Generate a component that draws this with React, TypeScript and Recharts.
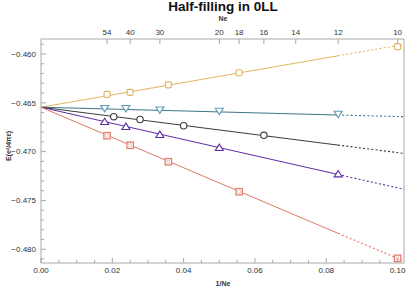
import React from 'react';
import { ComposedChart, Line, Scatter, XAxis, YAxis, ReferenceLine } from 'recharts';

// ---- data ----
const X_MAX = 0.1018;
const Y_MIN = -0.48141;
const Y_MAX = -0.45846;

const topNeTicks = [54, 40, 30, 20, 18, 16, 14, 12, 10];
const xMajor = [0, 0.02, 0.04, 0.06, 0.08, 0.1];
const xMinor = [0.005, 0.01, 0.015, 0.025, 0.03, 0.035, 0.045, 0.05, 0.055, 0.065, 0.07, 0.075, 0.085, 0.09, 0.095];
const yMajor = [-0.48, -0.475, -0.47, -0.465, -0.46];
const yMinor = [-0.481, -0.479, -0.478, -0.477, -0.476, -0.474, -0.473, -0.472, -0.471, -0.469, -0.468, -0.467, -0.466, -0.464, -0.463, -0.462, -0.461, -0.459];

// Ne of the markers and their energies
const yellowNe = [54, 40, 28, 18, 10];
const yellowE = [-0.46413, -0.46392, -0.46315, -0.46192, -0.45925];
const tealNe = [56, 42, 30, 20, 12];
const tealE = [-0.46556, -0.46556, -0.46571, -0.46584, -0.46615];
const blackNe = [49, 36, 25, 16];
const blackE = [-0.46642, -0.46671, -0.46735, -0.46833];
const purpleNe = [56, 42, 30, 20, 12];
const purpleE = [-0.46694, -0.46745, -0.46827, -0.4696, -0.4723];
const redNe = [54, 40, 28, 18, 10];
const redE = [-0.46837, -0.46935, -0.47104, -0.47411, -0.48093];

// fit lines: value at 1/Ne = 0, at end of solid part, and at the frame edge
const fitX = [0, 0.0833, 0.1018];
const yellowFit = [-0.46545, -0.46018, -0.45901];
const tealFit = [-0.46545, -0.46625, -0.46642];
const blackFit = [-0.46545, -0.46933, -0.47018];
const purpleFit = [-0.46545, -0.47234, -0.47386];
const redFit = [-0.46545, -0.47837, -0.48121];

// ---- styles ----
const FRAME = '#a8a8a8';
const TXT = '#333';
const FONT = '"Liberation Sans", Arial, sans-serif';
const C_YEL = '#dfb65f';
const C_TEAL = '#3f7287';
const C_TEAL_M = '#5d9db3';
const C_BLK = '#3c3c3c';
const C_PUR = '#5f2ca6';
const C_RED = '#e07864';

const pts = (ne: number[], e: number[]) => ne.map((n, i) => ({ x: 1 / n, y: e[i] }));
const solid = (f: number[]) => [{ x: fitX[0], y: f[0] }, { x: fitX[1], y: f[1] }];
const dotted = (f: number[]) => [{ x: fitX[1], y: f[1] }, { x: fitX[2], y: f[2] }];

const fmtMinus = (s: string) => s.replace('-', '\u2212');

const YTick = (p: any) => {
  const { x, y, payload } = p;
  const major = yMajor.includes(payload.value);
  return (
    <g>
      <line x1={x} x2={x + (major ? 5 : 3)} y1={y} y2={y} stroke={FRAME} strokeWidth={1} />
      {major && (
        <text x={x - 5} y={y + 2.8} textAnchor="end" fontSize={8} fill={TXT} fontFamily={FONT}>
          {fmtMinus(payload.value.toFixed(3))}
        </text>
      )}
    </g>
  );
};

const XTick = (p: any) => {
  const { x, y, payload } = p;
  const major = xMajor.includes(payload.value);
  return (
    <g>
      <line x1={x} x2={x} y1={y} y2={y - (major ? 5 : 3)} stroke={FRAME} strokeWidth={1} />
      {major && (
        <text x={x} y={y + 10.3} textAnchor="middle" fontSize={8} fill={TXT} fontFamily={FONT}>
          {payload.value.toFixed(2)}
        </text>
      )}
    </g>
  );
};

const TopTick = (p: any) => {
  const { x, y, index } = p;
  return (
    <g>
      <line x1={x} x2={x} y1={y} y2={y + 5} stroke={FRAME} strokeWidth={1} />
      <text x={x} y={y - 4.3} textAnchor="middle" fontSize={8} fill={TXT} fontFamily={FONT}>
        {topNeTicks[index]}
      </text>
    </g>
  );
};

const Sq = (color: string) => (p: any) => (
  <rect x={p.cx - 3} y={p.cy - 3} width={6} height={6} rx={1.5} fill="#fff" stroke={color} strokeWidth={1.2} />
);
const SqRed = (color: string) => (p: any) => (
  <g>
    <rect x={p.cx - 3.2} y={p.cy - 3.2} width={6.4} height={6.4} fill="#fff" stroke={color} strokeWidth={1.2} />
    <rect x={p.cx - 1.4} y={p.cy - 1.4} width={2.8} height={2.8} fill="none" stroke={color} strokeWidth={0.6} opacity={0.6} />
  </g>
);
const Circ = (color: string) => (p: any) => (
  <circle cx={p.cx} cy={p.cy} r={3.2} fill="#fff" stroke={color} strokeWidth={1.1} />
);
const TriUp = (color: string) => (p: any) => (
  <path d={`M${p.cx},${p.cy - 3.6} L${p.cx + 4},${p.cy + 2.8} L${p.cx - 4},${p.cy + 2.8} Z`} fill="#fff" stroke={color} strokeWidth={1.1} />
);
const TriDown = (color: string) => (p: any) => (
  <path d={`M${p.cx},${p.cy + 3.6} L${p.cx + 4},${p.cy - 2.8} L${p.cx - 4},${p.cy - 2.8} Z`} fill="#fff" stroke={color} strokeWidth={1.1} />
);

const series = [
  { fit: yellowFit, data: pts(yellowNe, yellowE), color: C_YEL, mColor: C_YEL, shape: Sq },
  { fit: tealFit, data: pts(tealNe, tealE), color: C_TEAL, mColor: C_TEAL_M, shape: TriDown },
  { fit: blackFit, data: pts(blackNe, blackE), color: C_BLK, mColor: C_BLK, shape: Circ },
  { fit: purpleFit, data: pts(purpleNe, purpleE), color: C_PUR, mColor: C_PUR, shape: TriUp },
  { fit: redFit, data: pts(redNe, redE), color: C_RED, mColor: C_RED, shape: SqRed },
];

export default function App() {
  return (
    <div style={{ position: 'absolute', left: 0, top: 0, width: 407, height: 288, background: '#fff' }}>
      <ComposedChart width={407} height={288} margin={{ top: 10, right: 3, bottom: 5, left: 5 }}>
        <XAxis
          xAxisId={0}
          dataKey="x"
          type="number"
          domain={[0, X_MAX]}
          ticks={[...xMajor, ...xMinor]}
          interval={0}
          tickSize={0}
          tickMargin={0}
          tick={<XTick />}
          height={20}
          stroke={FRAME}
          allowDataOverflow
        />
        <XAxis
          xAxisId="top"
          orientation="top"
          dataKey="x"
          type="number"
          domain={[0, X_MAX]}
          ticks={topNeTicks.map((n) => 1 / n)}
          interval={0}
          tickSize={0}
          tickMargin={0}
          tick={<TopTick />}
          height={29}
          stroke={FRAME}
          allowDataOverflow
        />
        <YAxis
          dataKey="y"
          type="number"
          domain={[Y_MIN, Y_MAX]}
          ticks={[...yMajor, ...yMinor]}
          interval={0}
          tickSize={0}
          tickMargin={0}
          tick={<YTick />}
          width={36}
          stroke={FRAME}
          allowDataOverflow
        />
        <ReferenceLine x={X_MAX} stroke={FRAME} ifOverflow="visible" />
        {series.map((s, i) => (
          <Line
            key={'s' + i}
            data={solid(s.fit)}
            dataKey="y"
            stroke={s.color}
            strokeWidth={1}
            dot={false}
            isAnimationActive={false}
          />
        ))}
        {series.map((s, i) => (
          <Line
            key={'d' + i}
            data={dotted(s.fit)}
            dataKey="y"
            stroke={s.color}
            strokeWidth={1.1}
            strokeDasharray="2 2.2"
            dot={false}
            isAnimationActive={false}
          />
        ))}
        {series.map((s, i) => (
          <Scatter key={'m' + i} data={s.data} dataKey="y" shape={s.shape(s.mColor)} isAnimationActive={false} />
        ))}
      </ComposedChart>
      <svg width={407} height={288} style={{ position: 'absolute', left: 0, top: 0, pointerEvents: 'none' }}>
        <text x={223} y={11} textAnchor="middle" fontSize={13.5} fontWeight="bold" fill="#111" fontFamily={FONT}>
          Half-filling in 0LL
        </text>
        <text x={223} y={21} textAnchor="middle" fontSize={7} fontWeight="bold" fill={TXT} fontFamily={FONT}>
          Ne
        </text>
        <text x={223} y={286} textAnchor="middle" fontSize={7} fontWeight="bold" fill={TXT} fontFamily={FONT}>
          1/Ne
        </text>
        <text
          x={8}
          y={146}
          textAnchor="middle"
          fontSize={7}
          fontWeight="bold"
          fill={TXT}
          fontFamily={FONT}
          transform="rotate(-90 8 146)"
          dy={2.5}
        >
          E(e²/4πε)
        </text>
      </svg>
    </div>
  );
}
